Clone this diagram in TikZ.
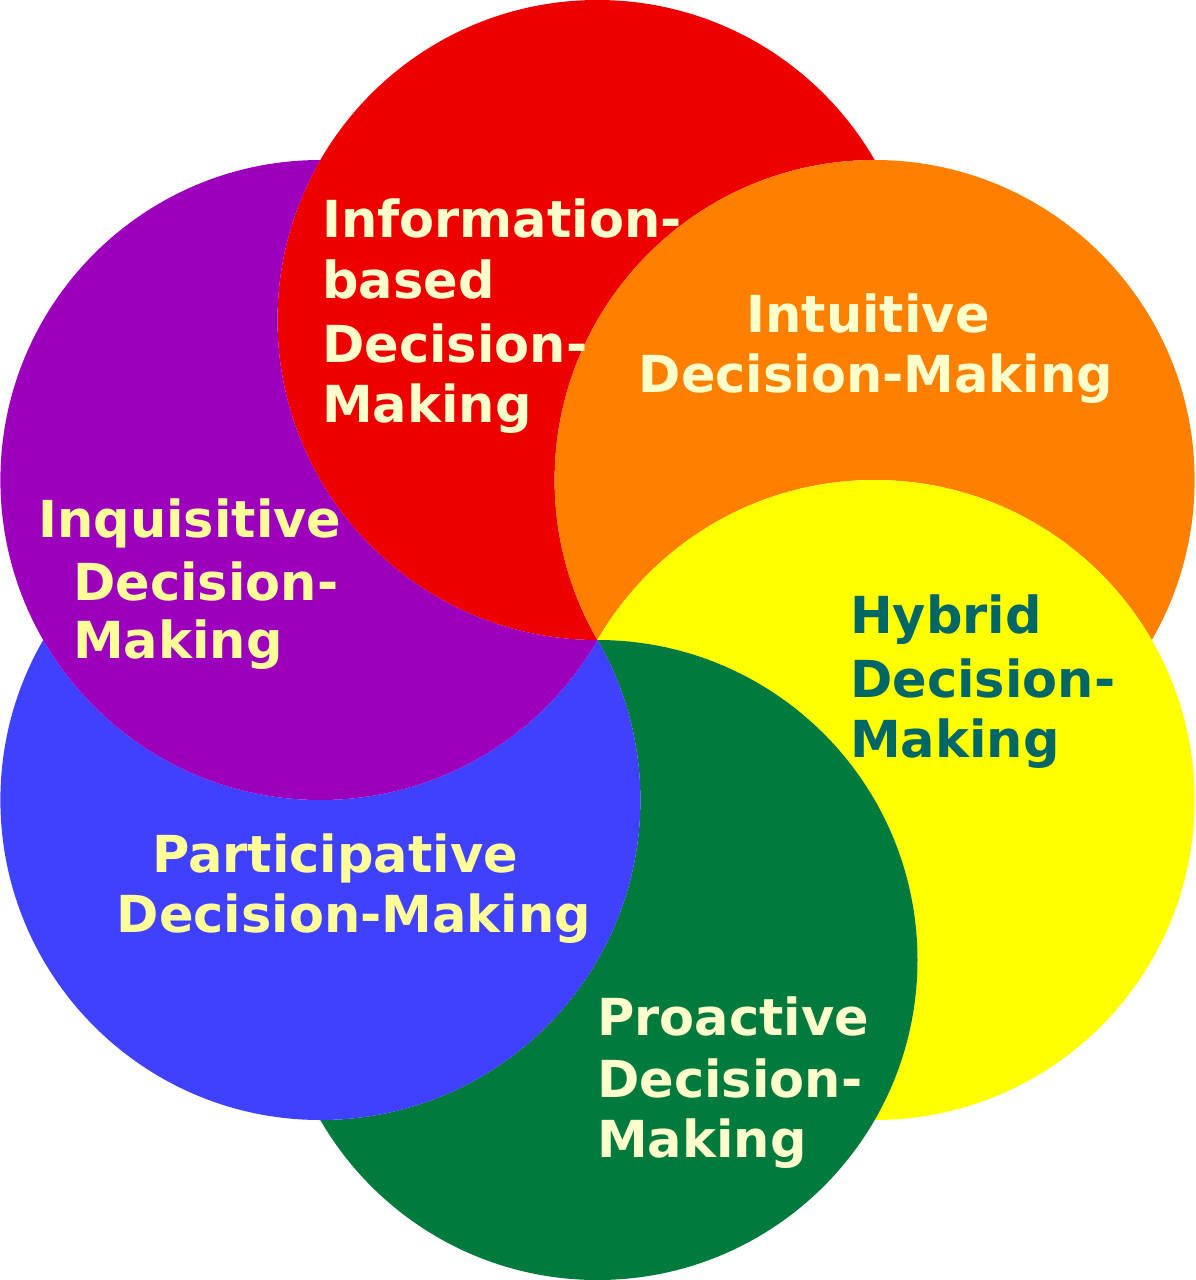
\documentclass[tikz,border=0pt]{standalone}
\usepackage{fontspec}
\setmainfont{DejaVu Sans}
\definecolor{cred}{RGB}{238,0,0}
\definecolor{corange}{RGB}{255,128,0}
\definecolor{cyellow}{RGB}{255,255,0}
\definecolor{cgreen}{RGB}{0,122,61}
\definecolor{cblue}{RGB}{64,64,255}
\definecolor{cpurple}{RGB}{157,0,189}
\definecolor{tcream}{RGB}{255,255,204}
\definecolor{tyellow}{RGB}{255,255,153}
\definecolor{tteal}{RGB}{0,102,102}
\tikzset{
  lbl/.style={inner sep=0pt, font=\fontsize{51}{61}\selectfont\bfseries},
  lw/.style={lbl, anchor=base west},
  lc/.style={lbl, anchor=base},
}
\newcommand{\petal}[3]{% color, own centre, centre of the circle lying over it
  \begin{scope}[even odd rule]
    \clip (-10,-10) rectangle (1205,1290) (#3) circle[radius=320pt];
    \fill[#1] (#2) circle[radius=320pt];
  \end{scope}}
\begin{document}
\begin{tikzpicture}[x=1pt,y=-1pt]
\useasboundingbox (0,0) rectangle (1195,1280);
\coordinate (cR) at (597.5,320);
\coordinate (cO) at (874.6,480);
\coordinate (cY) at (874.6,800);
\coordinate (cG) at (597.5,960);
\coordinate (cB) at (320.4,800);
\coordinate (cP) at (320.4,480);
\petal{cred}{cR}{cO}
\petal{corange}{cO}{cY}
\petal{cyellow}{cY}{cG}
\petal{cgreen}{cG}{cB}
\petal{cblue}{cB}{cP}
\petal{cpurple}{cP}{cR}
% Information-based
\node[lw, text=tcream] (info1) at (322,237) {Information-};
\node[lw, text=tcream] (info2) at (322,298) {based};
\node[lw, text=tcream] (info3) at (322,362) {Decision-};
\node[lw, text=tcream] (info4) at (322,422) {Making};
% Intuitive
\node[lc, text=tcream] (intu1) at (868,332) {Intuitive};
\node[lc, text=tcream] (intu2) at (876,392) {Decision-Making};
% Hybrid
\node[lw, text=tteal] (hyb1) at (850,633) {Hybrid};
\node[lw, text=tteal] (hyb2) at (850,697) {Decision-};
\node[lw, text=tteal] (hyb3) at (850,757) {Making};
% Inquisitive
\node[lw, text=tyellow] (inq1) at (38,537) {Inquisitive};
\node[lw, text=tyellow] (inq2) at (73,600) {Decision-};
\node[lw, text=tyellow] (inq3) at (73,658) {Making};
% Participative
\node[lc, text=tyellow] (par1) at (335,872) {Participative};
\node[lc, text=tyellow] (par2) at (354,932) {Decision-Making};
% Proactive
\node[lw, text=tcream] (pro1) at (597,1035) {Proactive};
\node[lw, text=tcream] (pro2) at (597,1097) {Decision-};
\node[lw, text=tcream] (pro3) at (597,1157) {Making};
\end{tikzpicture}
\end{document}
